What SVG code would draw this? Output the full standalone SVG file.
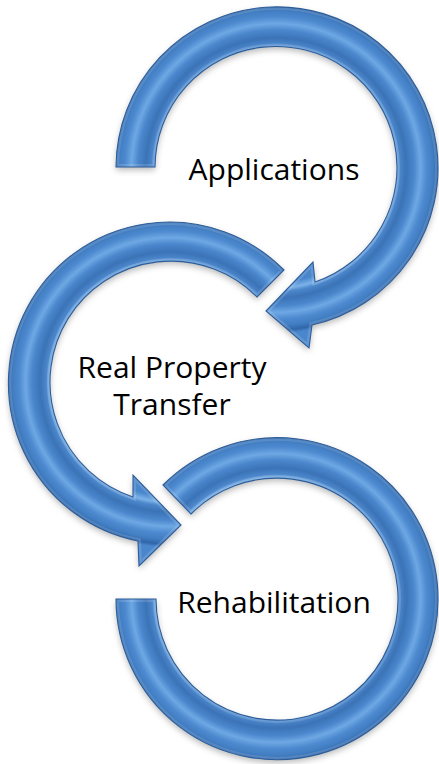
<svg xmlns="http://www.w3.org/2000/svg" width="439" height="764" viewBox="0 0 439 764">
<defs>
<style>
.bev{fill:none;stroke:#ffffff;stroke-width:6;opacity:0.14}
.edge{fill:none;stroke:#2d5d98;stroke-width:1.1}
.lbl{font-family:"Open Sans","Liberation Sans",sans-serif;font-size:30px;fill:#000;text-anchor:middle}
</style>
<radialGradient id="g1" gradientUnits="userSpaceOnUse" cx="276" cy="168" r="190">
<stop offset="0" stop-color="#4a86cc"/>
<stop offset="0.60" stop-color="#4a86cc"/>
<stop offset="0.632" stop-color="#7cb2e8"/>
<stop offset="0.652" stop-color="#4c87cb"/>
<stop offset="0.684" stop-color="#3b73b7"/>
<stop offset="0.726" stop-color="#4a86cc"/>
<stop offset="0.760" stop-color="#6ea8e4"/>
<stop offset="0.795" stop-color="#4d89cf"/>
<stop offset="0.826" stop-color="#427ec3"/>
<stop offset="0.853" stop-color="#3066a9"/>
<stop offset="0.87" stop-color="#4a86cc"/>
<stop offset="1" stop-color="#4a86cc"/>
</radialGradient>
<radialGradient id="g2" href="#g1" cx="170" cy="382"/>
<radialGradient id="g3" href="#g1" cx="276" cy="598"/>
<filter id="sh" x="-10%" y="-10%" width="120%" height="125%">
<feDropShadow dx="0" dy="3" stdDeviation="3" flood-color="#000" flood-opacity="0.28"/>
</filter>
<path id="p1" d="M 116,167 A 161 161 0 1 1 312,325 L 309,348 L 266,311 L 313,262 L 315,282 A 121 121 0 1 0 155,167 Z"/>
<path id="p2" d="M 284,270 A 161 161 0 1 0 138,541 L 139,566 L 181,525 L 133,475 L 133,497 A 121 121 0 1 1 257,297 Z"/>
<path id="p3" d="M 163,485 A 161 161 0 1 1 116,599 L 156,599 A 121 121 0 1 0 191,514 Z"/>
<clipPath id="c1"><use href="#p1"/></clipPath>
<clipPath id="c2"><use href="#p2"/></clipPath>
<clipPath id="c3"><use href="#p3"/></clipPath>
</defs>
<rect width="439" height="764" fill="#fff"/>

<g id="node-applications">
<use href="#p1" fill="url(#g1)" filter="url(#sh)"/>
<g clip-path="url(#c1)"><use href="#p1" class="bev"/></g>
<use href="#p1" class="edge"/>
<text x="274" y="180" class="lbl">Applications</text>
</g>

<g id="node-real-property-transfer">
<use href="#p2" fill="url(#g2)" filter="url(#sh)"/>
<g clip-path="url(#c2)"><use href="#p2" class="bev"/></g>
<use href="#p2" class="edge"/>
<text class="lbl"><tspan x="172" y="378">Real Property</tspan><tspan x="172" y="415">Transfer</tspan></text>
</g>

<g id="node-rehabilitation">
<use href="#p3" fill="url(#g3)" filter="url(#sh)"/>
<g clip-path="url(#c3)"><use href="#p3" class="bev"/></g>
<use href="#p3" class="edge"/>
<text x="274" y="613" class="lbl">Rehabilitation</text>
</g>
</svg>
